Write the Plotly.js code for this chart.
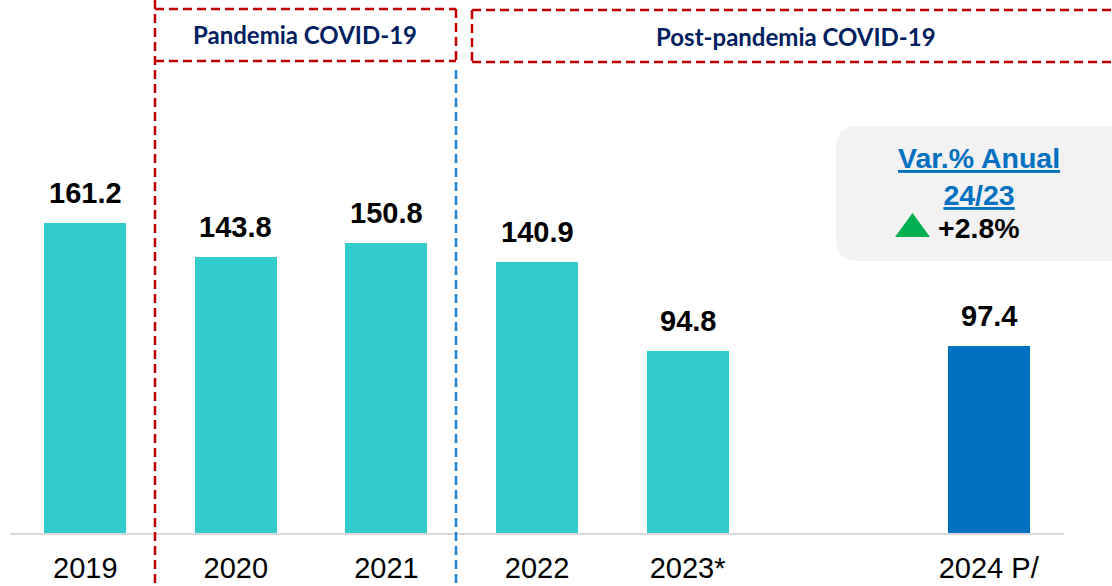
<!DOCTYPE html>
<html>
<head>
<meta charset="utf-8">
<script src="https://cdn.plot.ly/plotly-3.0.1.min.js"></script>
<style>html,body{margin:0;padding:0;background:#fff;}#chart{width:1112px;height:586px;}</style>
</head>
<body>
<div id="chart"></div>
<script>
const years = ['2019', '2020', '2021', '2022', '2023*', '2024 P/'];
const values = [161.2, 143.8, 150.8, 140.9, 94.8, 97.4];
const categoryOrder = ['2019', '2020', '2021', '2022', '2023*', ' ', '2024 P/'];
const periodLabels = ['Pandemia COVID-19', 'Post-pandemia COVID-19'];
const varTitle = 'Var.% Anual<br>24/23';
const varValue = '+2.8%';

const W = 1112, H = 586, L = 10, R = 48, T = 0, B = 53;
const pw = W - L - R, ph = H - T - B;
const px = x => (x - L) / pw;
const py = y => (H - B - y) / ph;

const barColors = values.map((v, i) => i === values.length - 1 ? '#0070c0' : '#33cccc');

const trace = {
  type: 'bar',
  x: years,
  y: values,
  width: 0.545,
  marker: {color: barColors, line: {width: 0}},
  hoverinfo: 'x+y'
};

const annotations = years.map((c, i) => ({
  x: categoryOrder.indexOf(c), y: values[i], xref: 'x', yref: 'y',
  text: values[i].toFixed(1),
  showarrow: false, yanchor: 'bottom', yshift: 12,
  font: {family: 'Liberation Sans, Arial, sans-serif', size: 29, color: '#000', weight: 'bold'}
}));

annotations.push({
  x: px(305), y: py(35), xref: 'paper', yref: 'paper',
  text: periodLabels[0], showarrow: false, xanchor: 'center', yanchor: 'middle',
  font: {family: 'Lato, sans-serif', size: 24, color: '#002060', weight: 'bold'}
});
annotations.push({
  x: px(796), y: py(37), xref: 'paper', yref: 'paper',
  text: periodLabels[1], showarrow: false, xanchor: 'center', yanchor: 'middle',
  font: {family: 'Lato, sans-serif', size: 24, color: '#002060', weight: 'bold'}
});
annotations.push({
  x: px(979), y: py(176), xref: 'paper', yref: 'paper',
  text: varTitle, showarrow: false, xanchor: 'center', yanchor: 'middle',
  font: {family: 'Liberation Sans, Arial, sans-serif', size: 28.5, color: '#0070c0', weight: 'bold', lineposition: 'under'}
});
annotations.push({
  x: px(979), y: py(228), xref: 'paper', yref: 'paper',
  text: varValue, showarrow: false, xanchor: 'center', yanchor: 'middle',
  font: {family: 'Liberation Sans, Arial, sans-serif', size: 28.5, color: '#000', weight: 'bold'}
});

const red = {color: '#c00000', width: 2.5, dash: '9px,5px'};
const blue = {color: '#1f7fd0', width: 2.5, dash: '9px,5px'};
function seg(x0, y0, x1, y1, line) {
  return {type: 'line', xref: 'paper', yref: 'paper', x0: px(x0), y0: py(y0), x1: px(x1), y1: py(y1), line: line, layer: 'above'};
}
const r = 22, bx0 = 836, by0 = 126, bx1 = 1140, by1 = 261;
const boxPath = `M ${px(bx0 + r)} ${py(by0)} L ${px(bx1)} ${py(by0)} L ${px(bx1)} ${py(by1)} L ${px(bx0 + r)} ${py(by1)} ` +
  `Q ${px(bx0)} ${py(by1)} ${px(bx0)} ${py(by1 - r)} L ${px(bx0)} ${py(by0 + r)} Q ${px(bx0)} ${py(by0)} ${px(bx0 + r)} ${py(by0)} Z`;
const triPath = `M ${px(895)} ${py(237)} L ${px(930)} ${py(237)} L ${px(912.5)} ${py(213)} Z`;

const shapes = [
  {type: 'path', xref: 'paper', yref: 'paper', path: boxPath, fillcolor: '#f2f2f2', line: {width: 0}, layer: 'below'},
  {type: 'path', xref: 'paper', yref: 'paper', path: triPath, fillcolor: '#00b050', line: {width: 0}, layer: 'above'},
  seg(155, 0, 155, 586, red),
  seg(155, 9, 456, 9, red),
  seg(456, 9, 456, 61, red),
  seg(155, 61, 456, 61, red),
  seg(456, 70, 456, 586, blue),
  seg(472, 10, 1112, 10, red),
  seg(472, 10, 472, 62, red),
  seg(472, 62, 1112, 62, red)
];

const layout = {
  width: W, height: H,
  margin: {l: L, r: R, t: T, b: B},
  paper_bgcolor: '#fff', plot_bgcolor: '#fff',
  showlegend: false,
  bargap: 0,
  xaxis: {
    type: 'category', categoryorder: 'array', categoryarray: categoryOrder,
    range: [-0.5, 6.5], fixedrange: true,
    showline: true, linecolor: '#d9d9d9', linewidth: 2,
    showgrid: false, zeroline: false, ticks: '',
    ticklabelstandoff: 8,
    tickfont: {family: 'Liberation Sans, Arial, sans-serif', size: 29, color: '#000'}
  },
  yaxis: {
    range: [0, 277.2], visible: false, showgrid: false, zeroline: false, fixedrange: true
  },
  annotations: annotations,
  shapes: shapes
};

Plotly.newPlot('chart', [trace], layout, {displayModeBar: false, staticPlot: true});
</script>
</body>
</html>
